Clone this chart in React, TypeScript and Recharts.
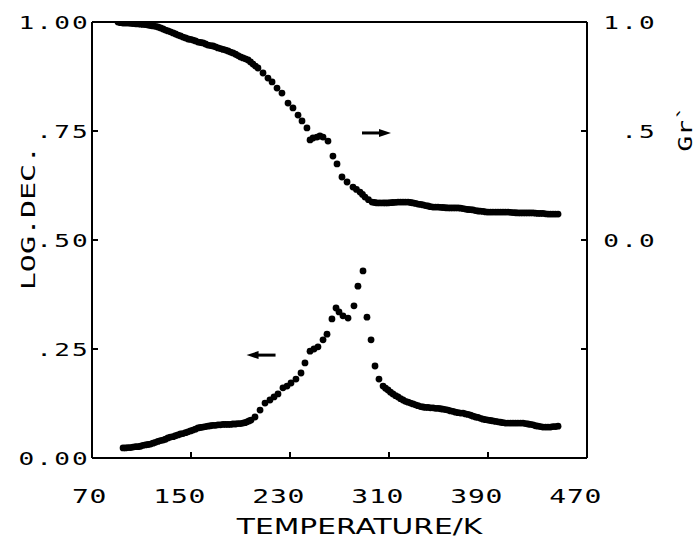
import React from 'react';
import { ComposedChart, Scatter, XAxis, YAxis, Label } from 'recharts';

// Temperature (K) for the upper curve (Gr', right axis)
const upperT = [
  91.0, 93.0, 95.1, 97.1, 99.1, 101.1, 103.1, 105.2, 107.2, 109.2,
  111.2, 113.2, 115.3, 117.3, 119.3, 121.3, 123.3, 125.4, 127.4, 129.4,
  131.4, 133.4, 135.5, 137.5, 139.5, 141.5, 143.5, 145.6, 147.6, 149.6,
  151.6, 153.6, 155.7, 157.7, 159.7, 161.7, 163.7, 165.8, 167.8, 169.8,
  171.8, 173.8, 175.9, 177.9, 179.9, 181.9, 183.9, 186.0, 188.0, 190.0,
  192.0, 194.0, 196.1, 198.1, 200.1, 202.1, 204.1, 208.2, 212.2, 215.5,
  219.5, 223.5, 228.4, 232.4, 236.5, 239.7, 243.7, 246.2, 248.6, 251.8,
  254.2, 256.7, 260.7, 264.7, 268.0, 272.0, 276.1, 280.9, 283.7, 286.6,
  288.6, 290.6, 293.4, 296.3, 298.3, 300.3, 302.7, 305.2, 307.2, 309.2,
  311.2, 313.2, 315.3, 317.3, 319.3, 321.3, 323.3, 325.4, 327.4, 329.4,
  331.4, 333.4, 335.5, 337.5, 339.5, 341.5, 343.5, 345.6, 347.6, 349.6,
  351.6, 353.6, 355.7, 357.7, 359.7, 361.7, 363.7, 365.8, 367.8, 369.8,
  371.8, 373.8, 375.9, 377.9, 379.9, 381.9, 383.9, 386.0, 388.0, 390.0,
  392.0, 394.0, 396.1, 398.1, 400.1, 402.1, 404.1, 406.2, 408.2, 410.2,
  412.2, 414.2, 416.3, 418.3, 420.3, 422.3, 424.3, 426.4, 428.4, 430.4,
  432.4, 434.4, 436.5, 438.5, 440.5, 442.5, 444.5, 446.6,
];
const upperGr = [
  1.000, 0.997, 0.995, 0.995, 0.995, 0.994, 0.993, 0.992, 0.991, 0.990,
  0.989, 0.988, 0.986, 0.984, 0.982, 0.980, 0.977, 0.973, 0.968, 0.963,
  0.959, 0.955, 0.950, 0.945, 0.940, 0.936, 0.931, 0.927, 0.922, 0.920,
  0.917, 0.913, 0.908, 0.906, 0.904, 0.899, 0.894, 0.892, 0.890, 0.886,
  0.881, 0.878, 0.874, 0.871, 0.867, 0.862, 0.858, 0.852, 0.846, 0.840,
  0.835, 0.831, 0.826, 0.817, 0.807, 0.798, 0.789, 0.766, 0.743, 0.725,
  0.697, 0.674, 0.628, 0.606, 0.573, 0.546, 0.514, 0.459, 0.468, 0.472,
  0.477, 0.472, 0.454, 0.385, 0.349, 0.289, 0.266, 0.243, 0.232, 0.220,
  0.209, 0.197, 0.185, 0.174, 0.172, 0.170, 0.170, 0.170, 0.170, 0.170,
  0.171, 0.172, 0.173, 0.174, 0.174, 0.174, 0.174, 0.174, 0.172, 0.170,
  0.168, 0.165, 0.163, 0.161, 0.158, 0.156, 0.153, 0.151, 0.151, 0.151,
  0.150, 0.149, 0.148, 0.147, 0.147, 0.147, 0.147, 0.147, 0.146, 0.144,
  0.142, 0.140, 0.139, 0.138, 0.135, 0.133, 0.132, 0.131, 0.129, 0.128,
  0.128, 0.128, 0.128, 0.128, 0.128, 0.128, 0.128, 0.128, 0.127, 0.126,
  0.125, 0.124, 0.124, 0.124, 0.124, 0.124, 0.124, 0.124, 0.123, 0.122,
  0.122, 0.122, 0.120, 0.119, 0.119, 0.119, 0.119, 0.119,
];

// Temperature (K) for the lower curve (LOG.DEC., left axis)
const lowerT = [
  95.1, 97.1, 99.1, 101.1, 103.1, 105.2, 107.2, 109.2, 111.2, 113.2,
  115.3, 117.3, 119.3, 121.3, 123.3, 125.4, 127.4, 129.4, 131.4, 133.4,
  135.5, 137.5, 139.5, 141.5, 143.5, 145.6, 147.6, 149.6, 151.6, 153.6,
  155.7, 157.7, 159.7, 161.7, 163.7, 165.8, 167.8, 169.8, 171.8, 173.8,
  175.9, 177.9, 179.9, 181.9, 183.9, 186.0, 188.0, 190.0, 192.0, 193.6,
  195.3, 196.9, 198.5, 201.7, 205.8, 209.8, 213.8, 217.1, 220.3, 224.3,
  227.6, 230.8, 234.8, 238.9, 242.1, 246.2, 249.4, 252.6, 256.7, 259.9,
  263.9, 267.2, 269.6, 272.8, 276.9, 281.7, 284.9, 289.0, 292.2, 295.5,
  298.7, 301.9, 305.2, 307.2, 309.2, 311.2, 313.2, 315.3, 317.3, 319.3,
  321.3, 323.3, 325.4, 327.4, 329.4, 331.4, 333.4, 335.5, 337.5, 339.5,
  341.5, 343.5, 345.6, 347.6, 349.6, 351.6, 353.6, 355.7, 357.7, 359.7,
  361.7, 363.7, 365.8, 367.8, 369.8, 371.8, 373.8, 375.9, 377.9, 379.9,
  381.9, 383.9, 386.0, 388.0, 390.0, 392.0, 394.0, 396.1, 398.1, 400.1,
  402.1, 404.1, 406.2, 408.2, 410.2, 412.2, 414.2, 416.3, 418.3, 420.3,
  422.3, 424.3, 426.4, 428.4, 430.4, 432.4, 434.4, 436.5, 438.5, 440.5,
  442.5, 444.5, 446.6,
];
const lowerLogDec = [
  0.023, 0.023, 0.024, 0.024, 0.025, 0.026, 0.026, 0.027, 0.029, 0.030,
  0.031, 0.032, 0.034, 0.036, 0.038, 0.040, 0.041, 0.043, 0.046, 0.048,
  0.049, 0.051, 0.053, 0.055, 0.056, 0.058, 0.060, 0.062, 0.064, 0.066,
  0.069, 0.070, 0.071, 0.072, 0.073, 0.074, 0.075, 0.075, 0.076, 0.076,
  0.077, 0.077, 0.077, 0.077, 0.078, 0.078, 0.079, 0.079, 0.080, 0.081,
  0.083, 0.085, 0.087, 0.094, 0.110, 0.126, 0.133, 0.140, 0.147, 0.161,
  0.165, 0.172, 0.181, 0.195, 0.218, 0.245, 0.250, 0.255, 0.271, 0.284,
  0.319, 0.344, 0.335, 0.326, 0.321, 0.349, 0.394, 0.429, 0.323, 0.271,
  0.211, 0.181, 0.165, 0.160, 0.156, 0.151, 0.147, 0.143, 0.140, 0.136,
  0.133, 0.130, 0.128, 0.126, 0.124, 0.122, 0.120, 0.118, 0.117, 0.116,
  0.116, 0.115, 0.115, 0.114, 0.114, 0.113, 0.112, 0.111, 0.110, 0.108,
  0.107, 0.105, 0.104, 0.103, 0.103, 0.101, 0.100, 0.098, 0.096, 0.094,
  0.093, 0.091, 0.089, 0.088, 0.087, 0.086, 0.085, 0.084, 0.083, 0.082,
  0.081, 0.080, 0.080, 0.080, 0.080, 0.080, 0.080, 0.080, 0.080, 0.079,
  0.078, 0.077, 0.076, 0.074, 0.073, 0.072, 0.071, 0.071, 0.071, 0.071,
  0.072, 0.072, 0.073,
];

const xTicks = [70, 150, 230, 310, 390, 470];
const xTickLabels = ['70', '150', '230', '310', '390', '470'];
const leftTicks = [0, 0.25, 0.5, 0.75, 1];
const leftTickLabels = ['0.00', '.25', '.50', '.75', '1.00'];
const rightTicks = [-1, -0.5, 0, 0.5, 1];
const rightTickLabels = ['', '', '0.0', '.5', '1.0'];

// arrow annotations (data coordinates)
const leftArrow = [{ t: 207, v: 0.236 }];
const rightArrow = [{ t: 299.5, v: 0.491 }];

const upperData = upperT.map((t, i) => ({ t, v: upperGr[i] }));
const lowerData = lowerT.map((t, i) => ({ t, v: lowerLogDec[i] }));

const MONO = '"DejaVu Sans Mono", monospace';
const SANS = '"DejaVu Sans", sans-serif';

function WText(props: any) {
  const { x, y, anchor, size, sx, ls, rotate, family, children } = props;
  const tf = `translate(${x},${y})${rotate ? ` rotate(${rotate})` : ''} scale(${sx},1)`;
  return (
    <text
      transform={tf}
      x={0}
      y={0}
      textAnchor={anchor}
      fontSize={size}
      fontFamily={family}
      letterSpacing={ls}
      fill="#000"
    >
      {children}
    </text>
  );
}

const Dot = (p: any) => <circle cx={p.cx} cy={p.cy} r={3.4} fill="#000" />;

const ArrowLeft = (p: any) => (
  <g>
    <line x1={p.cx - 4} y1={p.cy} x2={p.cx + 14} y2={p.cy} stroke="#000" strokeWidth={3} />
    <polygon points={`${p.cx - 15},${p.cy} ${p.cx - 3},${p.cy - 4} ${p.cx - 3},${p.cy + 4}`} fill="#000" />
  </g>
);
const ArrowRight = (p: any) => (
  <g>
    <line x1={p.cx - 14} y1={p.cy} x2={p.cx + 4} y2={p.cy} stroke="#000" strokeWidth={3} />
    <polygon points={`${p.cx + 15},${p.cy} ${p.cx + 3},${p.cy - 4} ${p.cx + 3},${p.cy + 4}`} fill="#000" />
  </g>
);

const LeftTick = (p: any) => {
  const i = leftTicks.indexOf(p.payload.value);
  return (
    <WText x={p.x} y={p.y + 6.5} anchor="end" size={18} sx={1.45} ls={1.5} family={MONO}>
      {leftTickLabels[i]}
    </WText>
  );
};
const RightTick = (p: any) => {
  const i = rightTicks.indexOf(p.payload.value);
  return (
    <WText x={p.x} y={p.y + 6.5} anchor="end" size={18} sx={1.45} ls={1.5} family={MONO}>
      {rightTickLabels[i]}
    </WText>
  );
};
const BottomTick = (p: any) => {
  const i = xTicks.indexOf(p.payload.value);
  return (
    <WText x={p.x + 15} y={p.y} anchor="end" size={20} sx={1.4} ls={0.5} family={MONO}>
      {xTickLabels[i]}
    </WText>
  );
};

export default function App() {
  return (
    <div style={{ position: 'absolute', left: 0, top: 0, background: '#fff' }}>
      <ComposedChart width={697} height={540} margin={{ top: 0, right: 0, bottom: 0, left: 0 }}>
        <XAxis
          xAxisId="bottom"
          type="number"
          dataKey="t"
          domain={[70, 470]}
          ticks={xTicks}
          interval={0}
          allowDataOverflow
          orientation="bottom"
          height={82}
          tickSize={-6}
          tickMargin={51}
          tick={<BottomTick />}
          axisLine={{ stroke: '#000', strokeWidth: 2 }}
          tickLine={{ stroke: '#000', strokeWidth: 2 }}
        >
          <Label
            content={(lp: any) => {
              const vb = lp.viewBox;
              return (
                <WText x={vb.x + vb.width / 2 + 20} y={vb.y + 76} anchor="middle" size={22} sx={1.35} ls={0} family={SANS}>
                  TEMPERATURE/K
                </WText>
              );
            }}
          />
        </XAxis>
        <XAxis
          xAxisId="top"
          type="number"
          dataKey="t"
          domain={[70, 470]}
          ticks={xTicks}
          interval={0}
          allowDataOverflow
          orientation="top"
          height={22}
          tickSize={-6}
          tick={false}
          axisLine={{ stroke: '#000', strokeWidth: 2 }}
          tickLine={{ stroke: '#000', strokeWidth: 2 }}
        />
        <YAxis
          yAxisId="left"
          type="number"
          dataKey="v"
          domain={[0, 1]}
          ticks={leftTicks}
          interval={0}
          allowDataOverflow
          width={92}
          tickSize={-6}
          tickMargin={8}
          tick={<LeftTick />}
          axisLine={{ stroke: '#000', strokeWidth: 2 }}
          tickLine={{ stroke: '#000', strokeWidth: 2 }}
        >
          <Label
            content={(lp: any) => {
              const vb = lp.viewBox;
              return (
                <WText x={34.5} y={vb.y + vb.height / 2 - 22} anchor="middle" size={20} sx={1.5} ls={0} rotate={-90} family={MONO}>
                  LOG.DEC.
                </WText>
              );
            }}
          />
        </YAxis>
        <YAxis
          yAxisId="right"
          orientation="right"
          type="number"
          dataKey="v"
          domain={[-1, 1]}
          ticks={rightTicks}
          interval={0}
          allowDataOverflow
          width={110}
          tickSize={-6}
          tickMargin={76}
          tick={<RightTick />}
          axisLine={{ stroke: '#000', strokeWidth: 2 }}
          tickLine={{ stroke: '#000', strokeWidth: 2 }}
        >
          <Label
            content={() => (
              <WText x={692} y={128} anchor="middle" size={20} sx={1.3} ls={0} rotate={-90} family={MONO}>
                Gr`
              </WText>
            )}
          />
        </YAxis>
        <Scatter
          data={upperData}
          xAxisId="bottom"
          yAxisId="right"
          shape={<Dot />}
          isAnimationActive={false}
        />
        <Scatter
          data={lowerData}
          xAxisId="bottom"
          yAxisId="left"
          shape={<Dot />}
          isAnimationActive={false}
        />
        <Scatter data={leftArrow} xAxisId="bottom" yAxisId="left" shape={<ArrowLeft />} isAnimationActive={false} />
        <Scatter data={rightArrow} xAxisId="bottom" yAxisId="right" shape={<ArrowRight />} isAnimationActive={false} />
      </ComposedChart>
    </div>
  );
}
